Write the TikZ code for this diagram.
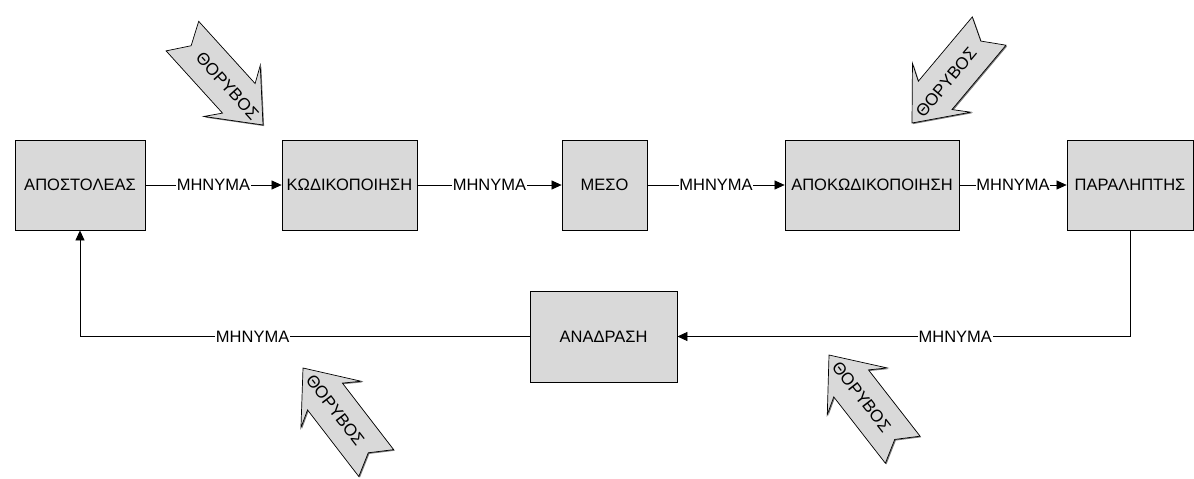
\documentclass[tikz,border=0pt]{standalone}
\usepackage{fontspec}
\setmainfont{Liberation Sans}
\usetikzlibrary{arrows.meta}
\definecolor{boxgray}{RGB}{217,217,217}
\definecolor{shadowgray}{RGB}{120,120,120}
\newcommand\bigfs{\fontsize{16.5}{19}\selectfont}
\newcommand\noisefs{\fontsize{17}{20}\selectfont}
\tikzset{
  box/.style={draw, line width=0.8pt, fill=boxgray, font=\bigfs, align=center, inner sep=0pt},
  msg/.style={fill=white, inner sep=0.6pt, font=\bigfs},
  conn/.style={line width=0.7pt, -{Triangle[length=10pt,width=9pt]}},
  noiseshape/.style={draw, line width=0.7pt, fill=boxgray, line join=miter},
}
% #1 name, #2 tip coordinate, #3 direction angle, #4 text rotation
\newcommand\noisearrow[4]{%
  \begin{scope}[shift={#2}, shift={(1.1,1.1)}, rotate=#3]
    \fill[shadowgray] (0,0) -- (-46,38) -- (-36,22) -- (-120,22) -- (-107,0) -- (-120,-22) -- (-36,-22) -- (-46,-38) -- cycle;
  \end{scope}
  \begin{scope}[shift={#2}, rotate=#3]
    \draw[noiseshape] (0,0) -- (-46,38) -- (-36,22) -- (-120,22) -- (-107,0) -- (-120,-22) -- (-36,-22) -- (-46,-38) -- cycle;
    \node[font=\noisefs, inner sep=0pt, rotate=#4, transform shape] (#1) at (-53,0) {ΘΟΡΥΒΟΣ};
  \end{scope}}
\begin{document}
\begin{tikzpicture}[x=1pt,y=-1pt]
\useasboundingbox (0,0) rectangle (1194,479);

\node[box, minimum width=130pt, minimum height=90pt] (ap) at (80,185) {ΑΠΟΣΤΟΛΕΑΣ};
\node[box, minimum width=135pt, minimum height=90pt] (kod) at (349.5,185) {ΚΩΔΙΚΟΠΟΙΗΣΗ};
\node[box, minimum width=85pt, minimum height=90pt] (meso) at (604.5,185) {ΜΕΣΟ};
\node[box, minimum width=174pt, minimum height=90pt] (apok) at (872,185) {ΑΠΟΚΩΔΙΚΟΠΟΙΗΣΗ};
\node[box, minimum width=126pt, minimum height=90pt] (par) at (1130,185) {ΠΑΡΑΛΗΠΤΗΣ};
\node[box, minimum width=147pt, minimum height=91pt] (anad) at (603.5,336.5) {ΑΝΑΔΡΑΣΗ};

\draw[conn] (ap.east) -- node[msg] {ΜΗΝΥΜΑ} (kod.west);
\draw[conn] (kod.east) -- node[msg] {ΜΗΝΥΜΑ} (meso.west);
\draw[conn] (meso.east) -- node[msg] {ΜΗΝΥΜΑ} (apok.west);
\draw[conn] (apok.east) -- node[msg] {ΜΗΝΥΜΑ} (par.west);
\draw[conn] (par.south) |- node[msg, pos=0.693] {ΜΗΝΥΜΑ} (anad.east);
\draw[conn] (anad.west) -| node[msg, pos=0.308] {ΜΗΝΥΜΑ} (ap.south);

\noisearrow{n1}{(263,125)}{-47.8}{0}
\noisearrow{n2}{(912,123)}{-130}{180}
\noisearrow{n3}{(303,368)}{127.6}{180}
\noisearrow{n4}{(829,355)}{127.9}{180}
\end{tikzpicture}
\end{document}
